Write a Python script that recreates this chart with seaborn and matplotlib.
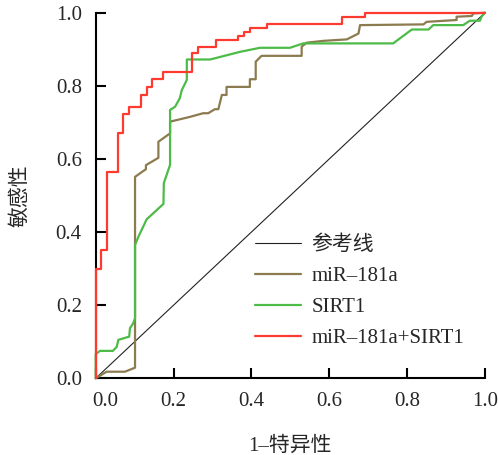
import matplotlib
matplotlib.use("Agg")
import matplotlib.pyplot as plt
import matplotlib.transforms as mtransforms
import seaborn as sns

# 参考线
ref_x = [0.0, 1.0]
ref_y = [0.0, 1.0]

# miR-181a ROC (1-特异性, 敏感性)
mir_fpr = [0.0, 0.028, 0.075, 0.101, 0.101, 0.129, 0.129, 0.161, 0.161, 0.191,
           0.191, 0.242, 0.276, 0.289, 0.306, 0.315, 0.324, 0.336, 0.336, 0.396,
           0.396, 0.411, 0.411, 0.426, 0.529, 0.529, 0.542, 0.585, 0.645, 0.675,
           0.679, 0.842, 0.850, 0.927, 0.927, 0.966, 0.970, 1.0]
mir_tpr = [0.0, 0.018, 0.018, 0.029, 0.551, 0.572, 0.583, 0.603, 0.647, 0.670,
           0.702, 0.715, 0.725, 0.725, 0.736, 0.736, 0.775, 0.775, 0.797, 0.797,
           0.818, 0.818, 0.866, 0.882, 0.882, 0.907, 0.918, 0.923, 0.927, 0.943,
           0.966, 0.968, 0.975, 0.980, 0.989, 0.991, 0.998, 1.0]

# SIRT1 ROC
sirt_fpr = [0.0, 0.0, 0.011, 0.044, 0.054, 0.058, 0.086, 0.088, 0.096, 0.101,
            0.101, 0.110, 0.131, 0.174, 0.175, 0.191, 0.191, 0.204, 0.216, 0.221,
            0.234, 0.234, 0.294, 0.371, 0.422, 0.499, 0.533, 0.764, 0.812, 0.855,
            0.867, 0.944, 0.961, 0.987, 0.991, 1.0]
sirt_tpr = [0.0, 0.066, 0.075, 0.075, 0.086, 0.105, 0.114, 0.137, 0.150, 0.164,
            0.365, 0.388, 0.435, 0.477, 0.534, 0.584, 0.734, 0.743, 0.766, 0.788,
            0.816, 0.872, 0.872, 0.893, 0.904, 0.904, 0.916, 0.916, 0.954, 0.954,
            0.966, 0.966, 0.978, 0.978, 0.989, 1.0]

# miR-181a+SIRT1 ROC (阶梯点)
combo_fpr = [0.0, 0.0, 0.014, 0.028, 0.057, 0.071, 0.086, 0.116, 0.131, 0.145,
             0.174, 0.248, 0.264, 0.309, 0.366, 0.381, 0.396, 0.439, 0.632, 0.692, 1.0]
combo_tpr = [0.0, 0.298, 0.352, 0.563, 0.670, 0.723, 0.743, 0.775, 0.796, 0.818,
             0.838, 0.891, 0.905, 0.925, 0.937, 0.946, 0.957, 0.968, 0.989, 1.0, 1.0]

labels = ['参考线', 'miR–181a', 'SIRT1', 'miR–181a+SIRT1']
colors = ['#222222', '#8c7b4f', '#4cbb47', '#ff3b30']
tick_vals = [0.0, 0.2, 0.4, 0.6, 0.8, 1.0]

sns.set_style('ticks')
plt.rcParams['font.family'] = ['Liberation Serif', 'Noto Sans CJK SC']

fig = plt.figure(figsize=(4.98, 4.55), dpi=100)
ax = fig.add_axes([0.1922, 0.1686, 0.9739 - 0.1922, 0.9721 - 0.1686])

sns.lineplot(x=ref_x, y=ref_y, ax=ax, color=colors[0], lw=0.8, label=labels[0],
             sort=False, estimator=None)
sns.lineplot(x=mir_fpr, y=mir_tpr, ax=ax, color=colors[1], lw=1.6, label=labels[1],
             sort=False, estimator=None, clip_on=False, zorder=3)
sns.lineplot(x=sirt_fpr, y=sirt_tpr, ax=ax, color=colors[2], lw=1.6, label=labels[2],
             sort=False, estimator=None, clip_on=False, zorder=3)
sns.lineplot(x=combo_fpr, y=combo_tpr, ax=ax, color=colors[3], lw=1.6, label=labels[3],
             sort=False, estimator=None, clip_on=False, zorder=4, drawstyle='steps-post')

ax.set_xlim(0, 1)
ax.set_ylim(0, 1)
ax.set_xticks(tick_vals)
ax.set_yticks(tick_vals)
ax.set_xticklabels([f'{v:.1f}' for v in tick_vals])
ax.set_yticklabels([f'{v:.1f}' for v in tick_vals])
ax.tick_params(direction='in', length=7, width=1.5, labelsize=15, pad=10, color='black')
sns.despine(ax=ax)
for s in ['left', 'bottom']:
    ax.spines[s].set_linewidth(1.5)
    ax.spines[s].set_color('black')

# 第一个x刻度标签稍向右移
lab0 = ax.get_xticklabels()[0]
lab0.set_transform(lab0.get_transform() + mtransforms.ScaledTranslation(0.1, 0, fig.dpi_scale_trans))

ax.set_xlabel('1–特异性', fontsize=15, labelpad=18)
ax.set_ylabel('敏感性', fontsize=15, labelpad=18)

ax.legend(loc='upper left', bbox_to_anchor=(0.41, 0.39), frameon=False, fontsize=15,
          handlelength=2.2, handletextpad=0.5, labelspacing=0.55, borderpad=0, borderaxespad=0)

plt.savefig('out.png', dpi=100)
plt.close()
